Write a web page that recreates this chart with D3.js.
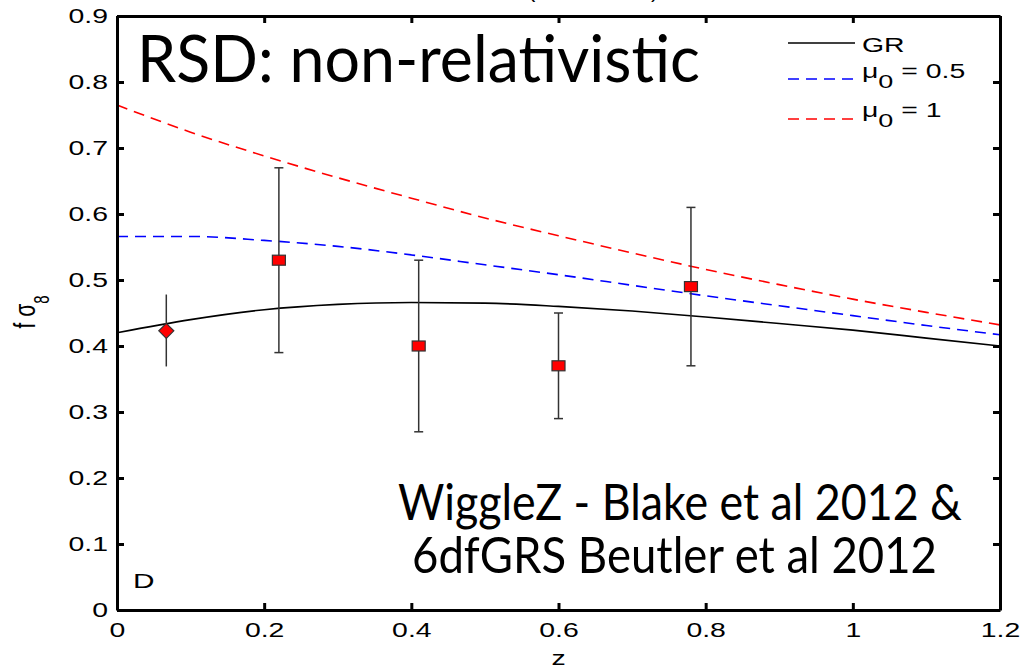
<!DOCTYPE html>
<html>
<head>
<meta charset="utf-8">
<script src="https://cdn.jsdelivr.net/npm/d3@7"></script>
<style>
  body { margin: 0; background: #fff; }
  svg { display: block; }
  .tick text { font-family: "Liberation Sans", Arial, sans-serif; font-size: 20px; fill: #000; }
</style>
</head>
<body>
<svg width="1023" height="671"></svg>
<script>
const svg = d3.select('svg');

// model curves
const zGrid      = [0, 0.1, 0.2, 0.3, 0.4, 0.5, 0.6, 0.7, 0.8, 0.9, 1.0, 1.1, 1.2];
const grValues   = [0.420, 0.440, 0.455, 0.463, 0.466, 0.465, 0.460, 0.453, 0.444, 0.434, 0.424, 0.412, 0.400];
const mu05Values = [0.566, 0.566, 0.560, 0.551, 0.538, 0.523, 0.508, 0.492, 0.476, 0.461, 0.446, 0.431, 0.417];
const mu1Values  = [0.765, 0.724, 0.688, 0.655, 0.624, 0.594, 0.567, 0.541, 0.516, 0.493, 0.471, 0.451, 0.432];

// measurements
const pointZ     = [0.067, 0.22, 0.41, 0.60, 0.78];
const pointVal   = [0.423, 0.53, 0.40, 0.37, 0.49];
const pointLow   = [0.369, 0.39, 0.27, 0.29, 0.37];
const pointHigh  = [0.478, 0.67, 0.53, 0.45, 0.61];
const pointShape = ["diamond", "square", "square", "square", "square"];

const xTicks = [0, 0.2, 0.4, 0.6, 0.8, 1, 1.2];
const xTickLabels = ["0", "0.2", "0.4", "0.6", "0.8", "1", "1.2"];
const yTicks = [0, 0.1, 0.2, 0.3, 0.4, 0.5, 0.6, 0.7, 0.8, 0.9];
const yTickLabels = ["0", "0.1", "0.2", "0.3", "0.4", "0.5", "0.6", "0.7", "0.8", "0.9"];

const margin = { left: 117, right: 23, top: 16, bottom: 61 };
const plotW = 1023 - margin.left - margin.right;
const plotH = 671 - margin.top - margin.bottom;
const stretch = 1.42;   // the original figure is stretched sideways
const helv = 'Liberation Sans, Arial, sans-serif';

const xScale = d3.scaleLinear().domain([0, 1.2]).range([0, plotW]);
const yScale = d3.scaleLinear().domain([0, 0.9]).range([plotH, 0]);

const g = svg.append('g').attr('transform', `translate(${margin.left},${margin.top})`);

// cut-off title at the very top
svg.append('text').attr('x', 528).attr('y', -3)
  .style('font-family', helv).style('font-size', '22px').text('(');
svg.append('text').attr('x', 651).attr('y', -3)
  .style('font-family', helv).style('font-size', '22px').text(')');

/***** curves *****/
const line = vals => d3.line()
  .x((d, i) => xScale(zGrid[i]))
  .y(d => yScale(d))
  .curve(d3.curveMonotoneX)(vals);

g.append('path').attr('d', line(mu1Values))
  .attr('fill', 'none').attr('stroke', '#ff0000').attr('stroke-width', 1.6)
  .attr('stroke-dasharray', '11,7');
g.append('path').attr('d', line(mu05Values))
  .attr('fill', 'none').attr('stroke', '#0000ff').attr('stroke-width', 1.6)
  .attr('stroke-dasharray', '11,7');
g.append('path').attr('d', line(grValues))
  .attr('fill', 'none').attr('stroke', '#000').attr('stroke-width', 1.6);

/***** error bars + markers *****/
const pts = pointZ.map((z, i) => ({ z, v: pointVal[i], lo: pointLow[i], hi: pointHigh[i], shape: pointShape[i] }));

const pg = g.selectAll('.pt').data(pts).enter().append('g').attr('class', 'pt');
pg.append('line')
  .attr('x1', d => xScale(d.z)).attr('x2', d => xScale(d.z))
  .attr('y1', d => yScale(d.lo)).attr('y2', d => yScale(d.hi))
  .attr('stroke', '#333').attr('stroke-width', 1.5);
pg.filter(d => d.shape === 'square').each(function(d) {
  const s = d3.select(this);
  [d.lo, d.hi].forEach(v => {
    s.append('line')
      .attr('x1', xScale(d.z) - 4.5).attr('x2', xScale(d.z) + 4.5)
      .attr('y1', yScale(v)).attr('y2', yScale(v))
      .attr('stroke', '#333').attr('stroke-width', 1.5);
  });
  s.append('rect')
    .attr('x', xScale(d.z) - 6.5).attr('y', yScale(d.v) - 5)
    .attr('width', 13).attr('height', 10)
    .attr('fill', '#ff0000').attr('stroke', '#333').attr('stroke-width', 1.2);
});
pg.filter(d => d.shape === 'diamond').append('path')
  .attr('d', d => {
    const cx = xScale(d.z), cy = yScale(d.v), r = 7.5;
    return `M${cx},${cy - r}L${cx + r},${cy}L${cx},${cy + r}L${cx - r},${cy}Z`;
  })
  .attr('fill', '#ff0000').attr('stroke', '#333').attr('stroke-width', 1.2);

/***** axes (box with inward ticks) *****/
const styleAxis = sel => {
  sel.select('.domain').attr('stroke', '#000').attr('stroke-width', 3);
  sel.selectAll('.tick line').attr('stroke', '#000').attr('stroke-width', 3);
};

const xAxisG = g.append('g').attr('transform', `translate(0,${plotH})`)
  .call(d3.axisBottom(xScale).tickValues(xTicks).tickFormat((d, i) => xTickLabels[i])
    .tickSizeInner(-7).tickSizeOuter(0).tickPadding(13))
  .call(styleAxis);
g.append('g')
  .call(d3.axisTop(xScale).tickValues(xTicks).tickFormat('')
    .tickSizeInner(-7).tickSizeOuter(0))
  .call(styleAxis);
const yAxisG = g.append('g')
  .call(d3.axisLeft(yScale).tickValues(yTicks).tickFormat((d, i) => yTickLabels[i])
    .tickSizeInner(-7).tickSizeOuter(0).tickPadding(9))
  .call(styleAxis);
g.append('g').attr('transform', `translate(${plotW},0)`)
  .call(d3.axisRight(yScale).tickValues(yTicks).tickFormat('')
    .tickSizeInner(-7).tickSizeOuter(0))
  .call(styleAxis);

// widen tick labels like the original
xAxisG.selectAll('.tick text').attr('fill', '#000')
  .attr('transform', `scale(${stretch},1)`);
yAxisG.selectAll('.tick text').attr('fill', '#000').each(function() {
  const x = +d3.select(this).attr('x');
  d3.select(this).attr('x', 0).attr('transform', `translate(${x},0) scale(${stretch},1)`);
});

/***** axis labels *****/
svg.append('g').attr('transform', `translate(${margin.left + plotW / 2},665) scale(${stretch},1)`)
  .append('text')
  .attr('text-anchor', 'middle')
  .style('font-family', helv).style('font-size', '20px')
  .text('z');

const yl = svg.append('g').attr('transform', `translate(35,312) scale(${stretch},1) rotate(-90)`)
  .append('text')
  .attr('text-anchor', 'middle')
  .style('font-family', helv).style('font-size', '21px');
yl.append('tspan').text('f σ');
yl.append('tspan').attr('dy', 10).style('font-size', '15px').text('8');

/***** legend *****/
const legendItems = [
  { label: 'GR', color: '#000', dash: null, ly: 43, base: 52 },
  { label: '0.5', color: '#0000ff', dash: '11,7', ly: 79, base: 78 },
  { label: '1', color: '#ff0000', dash: '11,7', ly: 119, base: 117 }
];
legendItems.forEach((it, i) => {
  svg.append('line')
    .attr('x1', 788).attr('x2', 855).attr('y1', it.ly).attr('y2', it.ly)
    .attr('stroke', it.color).attr('stroke-width', 1.6)
    .attr('stroke-dasharray', it.dash);
  const t = svg.append('g').attr('transform', `translate(862,${it.base}) scale(${stretch},1)`)
    .append('text')
    .style('font-family', helv).style('font-size', '20px');
  if (i === 0) {
    t.text(it.label);
  } else {
    t.append('tspan').text('μ');
    t.append('tspan').attr('dy', 10).style('font-size', '19px').text('0');
    t.append('tspan').attr('dy', -10).text(' = ' + it.label);
  }
});

/***** annotations *****/
svg.append('text')
  .attr('x', 137).attr('y', 82)
  .attr('textLength', 563).attr('lengthAdjust', 'spacingAndGlyphs')
  .style('font-family', 'Lato, sans-serif').style('font-size', '65px')
  .text('RSD: non-relativistic');

svg.append('text')
  .attr('x', 398).attr('y', 520)
  .attr('textLength', 564).attr('lengthAdjust', 'spacingAndGlyphs')
  .style('font-family', 'Lato, sans-serif').style('font-size', '51px')
  .text('WiggleZ - Blake et al 2012 &');
svg.append('text')
  .attr('x', 412).attr('y', 573)
  .attr('textLength', 525).attr('lengthAdjust', 'spacingAndGlyphs')
  .style('font-family', 'Lato, sans-serif').style('font-size', '51px')
  .text('6dfGRS Beutler et al 2012');

svg.append('g').attr('transform', `translate(133,588) scale(${stretch},1)`)
  .append('text')
  .style('font-family', helv).style('font-size', '21px')
  .text('D');
</script>
</body>
</html>
